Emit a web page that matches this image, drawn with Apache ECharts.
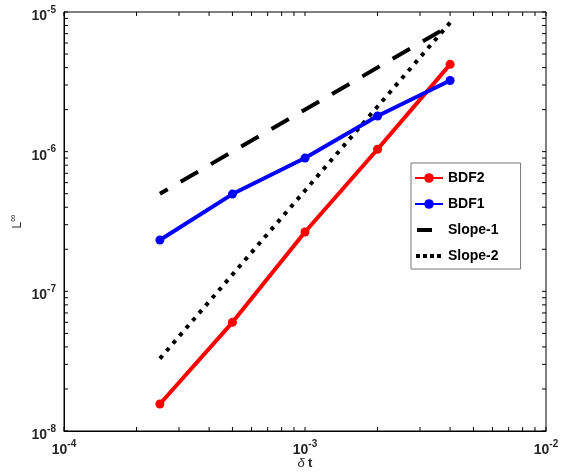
<!DOCTYPE html>
<html>
<head>
<meta charset="utf-8">
<script src="https://cdn.jsdelivr.net/npm/echarts@6/dist/echarts.min.js"></script>
<style>html,body{margin:0;padding:0;background:#fff;}#c{width:561px;height:476px;}</style>
</head>
<body>
<div id="c"></div>
<script>
var dt = [2.5e-4, 5e-4, 1e-3, 2e-3, 4e-3];
var bdf2 = [1.56e-8, 6.0e-8, 2.66e-7, 1.04e-6, 4.22e-6];
var bdf1 = [2.33e-7, 4.97e-7, 9.0e-7, 1.80e-6, 3.23e-6];
var slopeX = [2.5e-4, 4e-3];
var slope1 = [5.0e-7, 8.0e-6];
var slope2 = [3.3e-8, 8.4e-6];
var xDecades = [-4, -3, -2];
var yDecades = [-8, -7, -6, -5];
var seriesNames = ['BDF2', 'BDF1', 'Slope-1', 'Slope-2'];

var X_MIN = 1e-4, X_MAX = 1e-2, Y_MIN = 1e-8, Y_MAX = 1e-5;

function zip(xs, ys) { return xs.map(function (x, i) { return [x, ys[i]]; }); }

var xTicks = [], yTicks = [];
xDecades.forEach(function (e) {
  for (var m = 1; m <= 9; m++) { var v = m * Math.pow(10, e); if (v <= X_MAX * 1.0001) xTicks.push({v: v, major: m === 1}); }
});
yDecades.forEach(function (e) {
  for (var m = 1; m <= 9; m++) { var v = m * Math.pow(10, e); if (v <= Y_MAX * 1.0001) yTicks.push({v: v, major: m === 1}); }
});

var tickData = [];
xTicks.forEach(function (t) { tickData.push([t.v, Y_MIN, 0, t.major ? 1 : 0]); });
yTicks.forEach(function (t) { tickData.push([X_MIN, t.v, 1, t.major ? 1 : 0]); });

function expLabel(v) {
  var e = Math.round(Math.log10(v));
  return '{b|10}{s|' + e + '}';
}
var richLab = {
  b: {fontSize: 14, fontWeight: 'bold', color: '#262626', fontFamily: 'Liberation Sans'},
  s: {fontSize: 10, fontWeight: 'bold', color: '#262626', fontFamily: 'Liberation Sans', padding: [0, 0, 12, 0]}
};

var legendBar = 'path://M0,0M28,12M2,4h15v4h-15z';
var legendDots = 'path://M0,0M28,12M1,4h4v4h-4zM8,4h4v4h-4zM15,4h4v4h-4zM22,4h4v4h-4z';

var chart = echarts.init(document.getElementById('c'), null, {renderer: 'canvas'});
chart.setOption({
  animation: false,
  backgroundColor: '#fff',
  grid: {left: 64, right: 15, top: 12, bottom: 45, show: true, borderColor: '#000', borderWidth: 1,
         containLabel: false, outerBoundsMode: 'none'},
  xAxis: {
    type: 'log', logBase: 10, min: X_MIN, max: X_MAX,
    axisLine: {show: true, lineStyle: {color: '#000', width: 1}},
    axisTick: {show: false}, splitLine: {show: false}, minorTick: {show: false},
    axisLabel: {formatter: expLabel, rich: richLab, margin: 8},
    name: '{d|δ} {t|t}', nameLocation: 'middle', nameGap: 26, nameMoveOverlap: false,
    nameTextStyle: {rich: {
      d: {fontSize: 13, fontStyle: 'italic', color: '#262626', fontFamily: 'Liberation Sans'},
      t: {fontSize: 13, fontWeight: 'bold', color: '#262626', fontFamily: 'Liberation Sans'}
    }}
  },
  yAxis: {
    type: 'log', logBase: 10, min: Y_MIN, max: Y_MAX,
    axisLine: {show: true, lineStyle: {color: '#000', width: 1}},
    axisTick: {show: false}, splitLine: {show: false}, minorTick: {show: false},
    axisLabel: {formatter: expLabel, rich: richLab, margin: 8, padding: [8, 0, 0, 0]},
    name: '{l|L}{i|∞}', nameLocation: 'middle', nameGap: 36, nameRotate: 90, nameMoveOverlap: false,
    nameTextStyle: {rich: {
      l: {fontSize: 12, color: '#262626', fontFamily: 'Liberation Sans'},
      i: {fontSize: 10, color: '#262626', fontFamily: 'Liberation Sans', padding: [0, 0, 10, 0]}
    }}
  },
  legend: {
    data: [
      {name: 'BDF2'},
      {name: 'BDF1'},
      {name: 'Slope-1', icon: legendBar, itemStyle: {color: '#000'}},
      {name: 'Slope-2', icon: legendDots, itemStyle: {color: '#000'}}
    ],
    orient: 'vertical', left: 411, top: 163,
    backgroundColor: '#fff', borderColor: '#777', borderWidth: 1,
    padding: [8, 22, 6, 3], itemGap: 12, itemWidth: 28, itemHeight: 12,
    textStyle: {fontSize: 14, fontWeight: 'bold', color: '#000', fontFamily: 'Liberation Sans'}
  },
  series: [
    {
      type: 'custom', name: 'ticks', silent: true, z: 1,
      data: tickData,
      renderItem: function (params, api) {
        var v = api.value(0), w = api.value(1), kind = api.value(2);
        var len = 4;
        var style = {stroke: '#000', lineWidth: 1};
        if (kind === 0) {
          var pb = api.coord([v, Y_MIN]), pt = api.coord([v, Y_MAX]);
          return {type: 'group', children: [
            {type: 'line', shape: {x1: pb[0], y1: pb[1], x2: pb[0], y2: pb[1] - len}, style: style},
            {type: 'line', shape: {x1: pt[0], y1: pt[1], x2: pt[0], y2: pt[1] + len}, style: style}
          ]};
        } else {
          var pl = api.coord([X_MIN, w]), pr = api.coord([X_MAX, w]);
          return {type: 'group', children: [
            {type: 'line', shape: {x1: pl[0], y1: pl[1], x2: pl[0] + len, y2: pl[1]}, style: style},
            {type: 'line', shape: {x1: pr[0], y1: pr[1], x2: pr[0] - len, y2: pr[1]}, style: style}
          ]};
        }
      }
    },
    {
      name: 'BDF2', type: 'line', data: zip(dt, bdf2), z: 4,
      symbol: 'circle', symbolSize: 9,
      lineStyle: {color: '#ff0000', width: 4}, itemStyle: {color: '#ff0000'}
    },
    {
      name: 'BDF1', type: 'line', data: zip(dt, bdf1), z: 4,
      symbol: 'circle', symbolSize: 9,
      lineStyle: {color: '#0000ff', width: 4}, itemStyle: {color: '#0000ff'}
    },
    {
      name: 'Slope-1', type: 'line', data: zip(slopeX, slope1), z: 3,
      symbol: 'none', showSymbol: false,
      lineStyle: {color: '#000', width: 4, type: [20, 15], dashOffset: 11, cap: 'butt'}, itemStyle: {color: '#000'}
    },
    {
      name: 'Slope-2', type: 'line', data: zip(slopeX, slope2), z: 3,
      symbol: 'none', showSymbol: false,
      lineStyle: {color: '#000', width: 4, type: [4, 6], cap: 'butt'}, itemStyle: {color: '#000'}
    }
  ]
});
</script>
</body>
</html>
